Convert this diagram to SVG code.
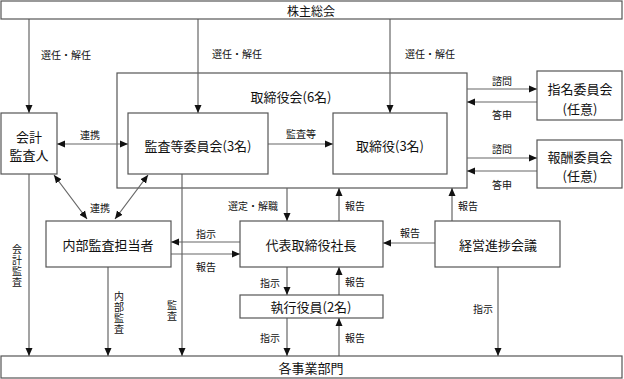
<svg xmlns="http://www.w3.org/2000/svg" width="624" height="379" viewBox="0 0 624 379">
<defs>
<marker id="ah" viewBox="0 0 8 8" markerWidth="8" markerHeight="8" refX="8" refY="4" orient="auto-start-reverse" markerUnits="userSpaceOnUse">
<path d="M0,0.5 L8,4 L0,7.5 z" fill="#111"/>
</marker>
</defs>
<style>
.box{fill:#fff;stroke:#555;stroke-width:1.2}
.ln{fill:none;stroke:#666;stroke-width:1.2}
.a{marker-end:url(#ah)}
.b{marker-start:url(#ah);marker-end:url(#ah)}
text{font-family:"Noto Sans CJK JP","Noto Sans CJK SC",sans-serif;fill:#111;text-anchor:middle;dominant-baseline:central}
.t{font-size:13px}
.s{font-size:10px}
.v{writing-mode:vertical-rl;text-orientation:upright;letter-spacing:1px}
</style>
<rect width="624" height="379" fill="#fff"/>
<g id="board">
<rect class="box" x="117" y="73" width="350" height="115"/>
<text class="t" x="291" y="96">取締役会(6名)</text>
</g>
<g id="connectors">
<path class="ln a" d="M29,19 V113"/>
<path class="ln a" d="M198,19 V113"/>
<path class="ln a" d="M390,19 V113"/>
<path class="ln a" d="M268,144 H333"/>
<path class="ln b" d="M57,144 H128"/>
<path class="ln a" d="M467,89 H537"/>
<path class="ln a" d="M537,102 H467"/>
<path class="ln a" d="M467,158 H537"/>
<path class="ln a" d="M537,171 H467"/>
<path class="ln b" d="M54,175 L87,219"/>
<path class="ln b" d="M148,175 L115,219"/>
<path class="ln a" d="M29,174 V356"/>
<path class="ln a" d="M182,174 V356"/>
<path class="ln a" d="M108,267 V356"/>
<path class="ln a" d="M287,188 V221"/>
<path class="ln a" d="M339,221 V188"/>
<path class="ln a" d="M452,221 V188"/>
<path class="ln a" d="M240,242 H171"/>
<path class="ln a" d="M171,254 H240"/>
<path class="ln a" d="M435,243 H383"/>
<path class="ln a" d="M287,267 V295"/>
<path class="ln a" d="M339,295 V267"/>
<path class="ln a" d="M287,318 V356"/>
<path class="ln a" d="M339,356 V318"/>
<path class="ln a" d="M498,267 V356"/>
<text class="s" x="66" y="54">選任・解任</text>
<text class="s" x="237" y="53">選任・解任</text>
<text class="s" x="430" y="53">選任・解任</text>
<text class="s" x="301" y="133">監査等</text>
<text class="s" x="90" y="134">連携</text>
<text class="s" x="100" y="207">連携</text>
<text class="s" x="502" y="80">諮問</text>
<text class="s" x="502" y="114">答申</text>
<text class="s" x="502" y="148">諮問</text>
<text class="s" x="502" y="184">答申</text>
<text class="s" x="253" y="205">選定・解職</text>
<text class="s" x="355" y="205">報告</text>
<text class="s" x="468" y="205">報告</text>
<text class="s" x="206" y="233">指示</text>
<text class="s" x="206" y="266">報告</text>
<text class="s" x="410" y="232">報告</text>
<text class="s" x="270" y="282">指示</text>
<text class="s" x="355" y="281">報告</text>
<text class="s" x="270" y="337">指示</text>
<text class="s" x="355" y="337">報告</text>
<text class="s" x="483" y="308">指示</text>
<text class="s v" x="17" y="266">会計監査</text>
<text class="s v" x="119" y="313">内部監査</text>
<text class="s v" x="172" y="311">監査</text>
</g>
<g id="shareholders">
<rect class="box" x="1" y="1" width="621" height="18"/>
<text class="t" x="311" y="10.5" style="font-size:12px">株主総会</text>
</g>
<g id="auditor">
<rect class="box" x="1" y="113" width="56" height="61"/>
<text class="t" x="29" y="136">会計</text>
<text class="t" x="29" y="154">監査人</text>
</g>
<g id="audit-committee">
<rect class="box" x="128" y="113" width="140" height="61"/>
<text class="t" x="198" y="145">監査等委員会(3名)</text>
</g>
<g id="directors">
<rect class="box" x="333" y="113" width="114" height="61"/>
<text class="t" x="390" y="145">取締役(3名)</text>
</g>
<g id="nomination">
<rect class="box" x="537" y="71" width="85" height="49"/>
<text class="t" x="580" y="88">指名委員会</text>
<text class="t" x="580" y="108">(任意)</text>
</g>
<g id="compensation">
<rect class="box" x="537" y="140" width="85" height="48"/>
<text class="t" x="580" y="156">報酬委員会</text>
<text class="t" x="580" y="175">(任意)</text>
</g>
<g id="internal-audit">
<rect class="box" x="46" y="221" width="125" height="46"/>
<text class="t" x="108" y="244">内部監査担当者</text>
</g>
<g id="president">
<rect class="box" x="240" y="221" width="143" height="46"/>
<text class="t" x="311" y="244">代表取締役社長</text>
</g>
<g id="progress-meeting">
<rect class="box" x="435" y="221" width="125" height="46"/>
<text class="t" x="498" y="244">経営進捗会議</text>
</g>
<g id="officers">
<rect class="box" x="240" y="295" width="143" height="23"/>
<text class="t" x="311" y="306.5">執行役員(2名)</text>
</g>
<g id="divisions">
<rect class="box" x="1" y="356" width="621" height="22"/>
<text class="t" x="311" y="367">各事業部門</text>
</g>
</svg>
